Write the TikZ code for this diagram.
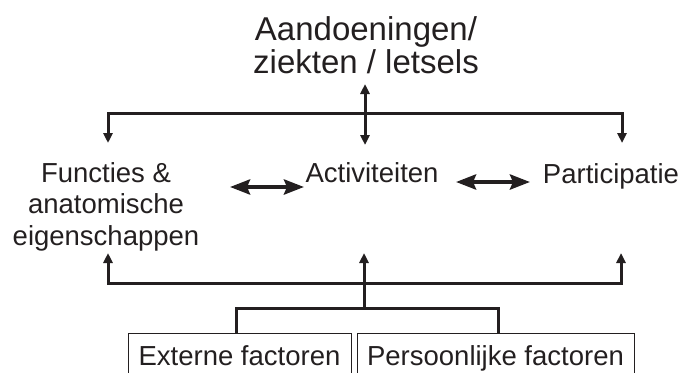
\documentclass[tikz,border=0pt]{standalone}
\usepackage{fontspec}
\setmainfont{Liberation Sans}
\usetikzlibrary{arrows.meta}
\definecolor{ink}{RGB}{35,31,32}
\begin{document}
\begin{tikzpicture}[x=1pt,y=-1pt,
  conn/.style={draw=ink, line width=3pt},
  tipend/.style={-{Triangle[width=9pt,length=10pt]}},
  tipboth/.style={{Triangle[width=9pt,length=10pt]}-{Triangle[width=9pt,length=10pt]}},
  bigdouble/.style={draw=ink, line width=4pt, {Stealth[width=15pt,length=20pt,inset=3pt]}-{Stealth[width=15pt,length=20pt,inset=3pt]}},
  toplabel/.style={text=ink, font=\fontsize{33}{33}\selectfont, align=center, inner sep=0pt, anchor=base},
  midlabel/.style={text=ink, font=\fontsize{27.5}{31.5}\selectfont, align=center, inner sep=0pt, anchor=base},
  factorbox/.style={draw=ink, line width=0.9pt, text=ink, font=\fontsize{27.5}{29}\selectfont,
    text height=20pt, text depth=0pt, inner ysep=12pt, inner xsep=0pt, anchor=base}]
\useasboundingbox (0,0) rectangle (682,372);
\clip (0,0) rectangle (682,372);

% labels (base anchor = baseline of the last line)
\node[toplabel] (aand) at (366,73) {Aandoeningen/\\ziekten / letsels};
\node[midlabel] (func) at (106,245) {Functies \&\\anatomische\\eigenschappen};
\node[midlabel] (act) at (372,182) {Activiteiten};
\node[midlabel] (part) at (611,183) {Participatie};
\node[factorbox, minimum width=223pt] (ext) at (239.5,365) {Externe factoren};
\node[factorbox, minimum width=277pt] (pers) at (495.5,365) {Persoonlijke factoren};

% coordinates
\coordinate (aandTip) at (365,84);
\coordinate (actTopTip) at (365,145);
\coordinate (tl) at (108,113);
\coordinate (tr) at (622,113);
\coordinate (funcTopTip) at (108,143);
\coordinate (partTopTip) at (622,143);
\coordinate (bl) at (108,283);
\coordinate (br) at (621,283);
\coordinate (funcBotTip) at (108,253);
\coordinate (actBotTip) at (364,253);
\coordinate (partBotTip) at (621,253);
\coordinate (bj) at (364,308);
\coordinate (bkl) at (236,308);
\coordinate (bkr) at (498,308);
\coordinate (fa1) at (230,187);
\coordinate (fa2) at (304,187);
\coordinate (ap1) at (456,182);
\coordinate (ap2) at (530,182);

% top distribution
\draw[conn, tipboth] (aandTip) -- (actTopTip);
\draw[conn, tipend] (tr) -- (tl) -- (funcTopTip);
\draw[conn, tipend] (tl) -- (tr) -- (partTopTip);

% bottom distribution
\draw[conn, tipend] (br) -- (bl) -- (funcBotTip);
\draw[conn, tipend] (bl) -- (br) -- (partBotTip);
\draw[conn, tipend] (bj) -- (actBotTip);
\draw[conn] (ext.north -| bkl) -- (bkl) -- (bkr) -- (pers.north -| bkr);

% horizontal double arrows
\draw[bigdouble] (fa1) -- (fa2);
\draw[bigdouble] (ap1) -- (ap2);
\end{tikzpicture}
\end{document}
